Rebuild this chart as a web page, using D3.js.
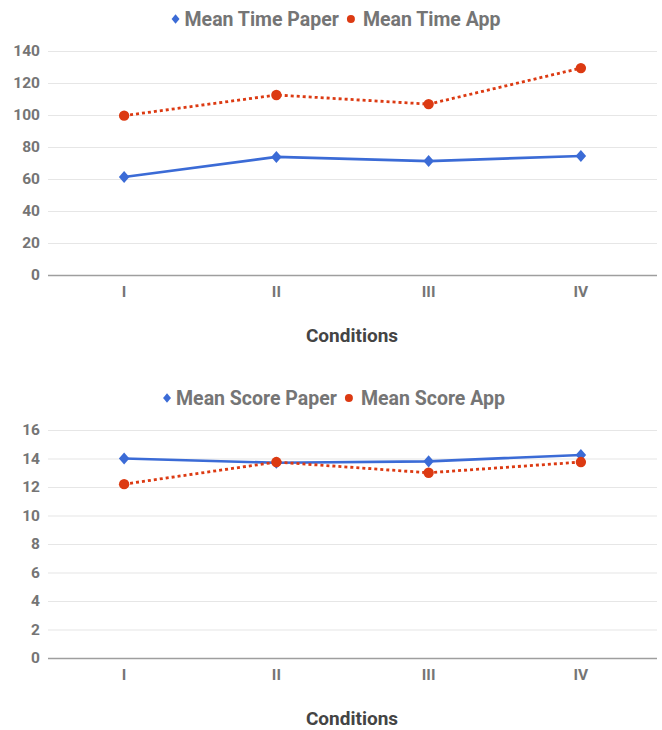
<!DOCTYPE html>
<html>
<head>
<meta charset="utf-8">
<script src="https://cdn.jsdelivr.net/npm/d3@7"></script>
<style>
  html, body { margin: 0; padding: 0; background: #fff; }
  svg { display: block; font-family: Roboto, "Noto Sans", sans-serif; }
</style>
</head>
<body>
<svg id="chart" width="662" height="730"></svg>
<script>
// Conditions on the x axis
const conditions = ["I", "II", "III", "IV"];

// Mean completion time per condition
const meanTimePaper = [61.2, 73.8, 71.2, 74.4];
const meanTimeApp = [99.6, 112.5, 106.8, 129.3];
const timeTicks = [0, 20, 40, 60, 80, 100, 120, 140];

// Mean score per condition
const meanScorePaper = [14.0, 13.7, 13.8, 14.25];
const meanScoreApp = [12.2, 13.75, 13.0, 13.75];
const scoreTicks = [0, 2, 4, 6, 8, 10, 12, 14, 16];

const BLUE = "#3b6bd6";
const RED = "#dc3a12";

const svg = d3.select("#chart");

function drawPanel(cfg) {
  const g = svg.append("g");
  const x = d3.scaleBand().domain(conditions).range([48, 657]);
  const y = d3.scaleLinear().domain([0, cfg.max]).range([cfg.bottom, cfg.top]);

  // legend
  const leg = g.append("g").attr("transform", `translate(0,${cfg.legendY})`);
  const legItems = [
    { name: cfg.names[0], color: BLUE, shape: "diamond" },
    { name: cfg.names[1], color: RED, shape: "circle" }
  ];
  const parts = [];
  let cursor = 0;
  legItems.forEach((it, i) => {
    const grp = leg.append("g");
    if (it.shape === "diamond") {
      grp.append("path").attr("d", d3.symbol(d3.symbolDiamond2, 40)()).attr("fill", it.color)
        .attr("transform", "scale(1,1.2)");
    } else {
      grp.append("circle").attr("r", 4).attr("fill", it.color);
    }
    const off = it.shape === "diamond" ? 9 : 12;
    const t = grp.append("text").attr("x", off).attr("dy", "0.36em")
      .attr("font-size", 19.5).attr("font-weight", 700).attr("fill", "#757575")
      .text(it.name);
    const w = off + t.node().getComputedTextLength();
    parts.push({ grp, x: cursor });
    cursor += w + 12;
  });
  const total = cursor - 12;
  const start = cfg.legendCx - total / 2;
  parts.forEach(p => p.grp.attr("transform", `translate(${start + p.x},0)`));

  // gridlines and y labels
  const yAxis = d3.axisLeft(y).tickValues(cfg.ticks).tickSize(-(657 - 48)).tickPadding(8);
  const ya = g.append("g").attr("transform", "translate(48,0)").call(yAxis);
  ya.select(".domain").remove();
  ya.selectAll(".tick line").attr("stroke", "#e6e6e6").attr("stroke-width", 1.2);
  ya.selectAll(".tick text").attr("fill", "#757575").attr("font-size", 15.5)
    .attr("font-weight", 700).attr("font-family", "Roboto, sans-serif");
  ya.selectAll(".tick").filter(d => d === 0).select("line")
    .attr("stroke", "#9e9e9e").attr("stroke-width", 1.4);

  // x labels
  const xAxis = d3.axisBottom(x).tickSize(0).tickPadding(11);
  const xa = g.append("g").attr("transform", `translate(0,${cfg.bottom})`).call(xAxis);
  xa.select(".domain").remove();
  xa.selectAll(".tick text").attr("fill", "#757575").attr("font-size", 15.5)
    .attr("font-weight", 700).attr("font-family", "Roboto, sans-serif");

  // x axis title
  g.append("text").attr("x", 352).attr("y", cfg.titleY).attr("text-anchor", "middle")
    .attr("font-size", 19).attr("font-weight", 700).attr("fill", "#444")
    .text("Conditions");

  const cx = d => x(d) + x.bandwidth() / 2;
  const line = d3.line().x(d => cx(d.c)).y(d => y(d.v));

  const paper = conditions.map((c, i) => ({ c, v: cfg.paper[i] }));
  const app = conditions.map((c, i) => ({ c, v: cfg.app[i] }));

  g.append("path").datum(paper).attr("d", line).attr("fill", "none")
    .attr("stroke", BLUE).attr("stroke-width", 2.6);
  g.append("path").datum(app).attr("d", line).attr("fill", "none")
    .attr("stroke", RED).attr("stroke-width", 2.8).attr("stroke-dasharray", "3,3");

  g.selectAll(".pm").data(paper).join("path").attr("class", "pm")
    .attr("d", d3.symbol(d3.symbolDiamond2, 70)())
    .attr("transform", d => `translate(${cx(d.c)},${y(d.v)}) scale(1,1.15)`)
    .attr("fill", BLUE);
  g.selectAll(".am").data(app).join("circle").attr("class", "am")
    .attr("cx", d => cx(d.c)).attr("cy", d => y(d.v)).attr("r", 5.2)
    .attr("fill", RED);
}

drawPanel({
  names: ["Mean Time Paper", "Mean Time App"],
  paper: meanTimePaper, app: meanTimeApp, ticks: timeTicks, max: 140,
  top: 51, bottom: 275, legendY: 19, legendCx: 338, titleY: 342
});

drawPanel({
  names: ["Mean Score Paper", "Mean Score App"],
  paper: meanScorePaper, app: meanScoreApp, ticks: scoreTicks, max: 16,
  top: 430, bottom: 658, legendY: 398, legendCx: 336, titleY: 725
});
</script>
</body>
</html>
